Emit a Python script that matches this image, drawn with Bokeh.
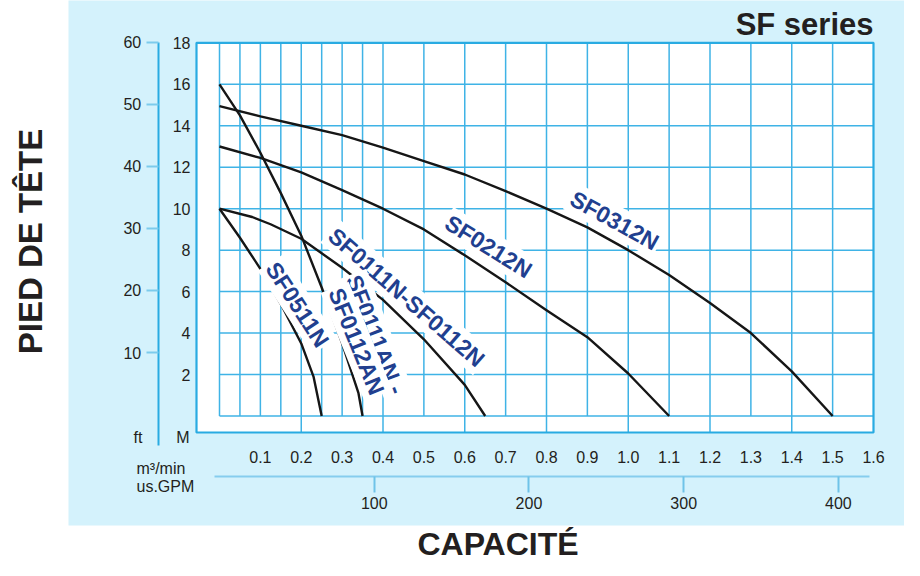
from bokeh.plotting import figure
from bokeh.models import Range1d, LinearAxis, FixedTicker, Label
from bokeh.embed import file_html
from bokeh.resources import INLINE

# ---------------- data (flow in m3/min, head in metres) ----------------
SF0312N_Q = [0.0, 0.1, 0.2, 0.3, 0.4, 0.5, 0.6, 0.7, 0.8, 0.9, 1.0, 1.1, 1.2, 1.3, 1.4, 1.5]
SF0312N_H = [14.95, 14.45, 14.0, 13.55, 12.95, 12.3, 11.65, 10.85, 10.0, 9.1, 8.0, 6.8, 5.45, 4.0, 2.15, 0.0]

SF0212N_Q = [0.0, 0.1, 0.2, 0.3, 0.4, 0.5, 0.6, 0.7, 0.8, 0.9, 1.0, 1.1]
SF0212N_H = [13.0, 12.45, 11.75, 10.9, 10.0, 9.0, 7.75, 6.45, 5.1, 3.8, 2.05, 0.0]

SF0111N_Q = [0.0, 0.08, 0.125, 0.2, 0.3, 0.4, 0.5, 0.6, 0.65]
SF0111N_H = [10.0, 9.6, 9.25, 8.55, 7.15, 5.6, 3.7, 1.5, 0.0]

SF0111AN_Q = [0.0, 0.05, 0.1, 0.15, 0.2, 0.25, 0.3, 0.34, 0.35]
SF0111AN_H = [16.0, 14.5, 12.7, 10.75, 8.7, 6.2, 3.5, 1.1, 0.0]

SF0511N_Q = [0.0, 0.05, 0.1, 0.15, 0.2, 0.23, 0.25]
SF0511N_H = [10.0, 8.6, 7.1, 5.4, 3.5, 1.9, 0.0]

CURVE_NAMES = ["SF0312N", "SF0212N", "SF0111N-SF0112N", "SF0511N", "SF0111AN -", "SF0112AN"]

M_TICKS = [2, 4, 6, 8, 10, 12, 14, 16, 18]
FT_TICKS = [10, 20, 30, 40, 50, 60]
M3_TICKS = [0.1, 0.2, 0.3, 0.4, 0.5, 0.6, 0.7, 0.8, 0.9, 1.0, 1.1, 1.2, 1.3, 1.4, 1.5, 1.6]
M3_LABELS = ["0.1", "0.2", "0.3", "0.4", "0.5", "0.6", "0.7", "0.8", "0.9", "1.0",
             "1.1", "1.2", "1.3", "1.4", "1.5", "1.6"]
GPM_TICKS = [100, 200, 300, 400]
GRID_Q = [0.0, 0.05, 0.1, 0.15, 0.2, 0.25, 0.3, 0.35, 0.4, 0.5, 0.6, 0.7, 0.8, 0.9,
          1.0, 1.1, 1.2, 1.3, 1.4, 1.5]
GRID_Q_LONG = [0.2, 0.4, 0.6, 0.8, 1.0, 1.2, 1.4]
GRID_H = [0, 2, 4, 6, 8, 10, 12, 14, 16]
Q_MAX, H_MAX = 1.6, 18

GPM_IN_M3MIN = 0.003785411784

# ---------------- layout helpers (picture pixels -> data) ----------------
W, H = 904, 560
X0, SX = 219.0, 408.75
Y0, SY = 415.5, 20.73
FT0, FTS = 414.1, 6.21


def dx(px):
    return (px - X0) / SX


def dy(py):
    return (Y0 - py) / SY


BLUE_BG = "#d4f2fc"
BOX = "#29abe2"
GRID = "#3fb3e6"
INK = "#231f20"
NAVY = "#213f8f"
FONT = "Liberation Sans"

p = figure(width=W, height=H, output_backend="svg", toolbar_location=None, title=None,
           x_range=Range1d(dx(0), dx(W)), y_range=Range1d(dy(H), dy(0)),
           x_axis_location=None, y_axis_location=None, min_border=0,
           outline_line_color=None, background_fill_color="white",
           border_fill_color="white")
p.grid.visible = False

p.extra_y_ranges = {"ft": Range1d((FT0 - H) / FTS, FT0 / FTS)}
p.extra_x_ranges = {"gpm": Range1d(dx(0) / GPM_IN_M3MIN, dx(W) / GPM_IN_M3MIN)}

# light blue panel and white chart box
p.quad(left=dx(68), right=dx(W) + 0.05, bottom=dy(525), top=dy(0) + 1,
       fill_color=BLUE_BG, line_color=None)
p.quad(left=dx(196), right=Q_MAX, bottom=dy(432), top=H_MAX,
       fill_color="white", line_color=None)

# grid
p.segment(x0=GRID_Q, x1=GRID_Q, y0=[0] * len(GRID_Q), y1=[H_MAX] * len(GRID_Q),
          line_color=GRID, line_width=1.5)
p.segment(x0=GRID_Q_LONG, x1=GRID_Q_LONG, y0=[dy(432)] * len(GRID_Q_LONG),
          y1=[0] * len(GRID_Q_LONG), line_color=GRID, line_width=1.5)
p.segment(x0=[0] * len(GRID_H), x1=[Q_MAX] * len(GRID_H), y0=GRID_H, y1=GRID_H,
          line_color=GRID, line_width=1.5)

# curves
for q, h in [(SF0312N_Q, SF0312N_H), (SF0212N_Q, SF0212N_H), (SF0111N_Q, SF0111N_H),
             (SF0111AN_Q, SF0111AN_H), (SF0511N_Q, SF0511N_H)]:
    p.line(q, h, line_color="#161616", line_width=2.4, line_join="round")

# box outline
p.quad(left=dx(196), right=Q_MAX, bottom=dy(432), top=H_MAX,
       fill_color=None, line_color=BOX, line_width=2.2)

TICK_FONT = dict(major_label_text_font=FONT, major_label_text_font_size="16px",
                 major_label_text_color=INK)

# head axis (M)
ax_m = LinearAxis(fixed_location=dx(196), ticker=FixedTicker(ticks=M_TICKS),
                  axis_line_color=None, major_tick_line_color=None,
                  minor_tick_line_color=None, major_tick_out=0, major_tick_in=0,
                  major_label_standoff=6, **TICK_FONT)
p.add_layout(ax_m, "left")

# head axis (ft)
ax_ft = LinearAxis(y_range_name="ft", fixed_location=dx(157.7), bounds=(-5, 60),
                   ticker=FixedTicker(ticks=FT_TICKS), axis_line_color=BOX,
                   axis_line_width=2, major_tick_line_color="#7ccbec",
                   major_tick_line_width=2, major_tick_out=12, major_tick_in=0,
                   minor_tick_line_color=None, major_label_standoff=5, **TICK_FONT)
p.add_layout(ax_ft, "left")

# flow axis (m3/min)
ax_q = LinearAxis(fixed_location=dy(432), ticker=FixedTicker(ticks=M3_TICKS),
                  major_label_overrides=dict(zip(M3_TICKS, M3_LABELS)),
                  axis_line_color=None, major_tick_line_color=None,
                  minor_tick_line_color=None, major_tick_out=0, major_tick_in=0,
                  major_label_standoff=18, **TICK_FONT)
p.add_layout(ax_q, "below")

# flow axis (US GPM)
ax_g = LinearAxis(x_range_name="gpm", fixed_location=dy(476),
                  bounds=(dx(214) / GPM_IN_M3MIN, dx(869) / GPM_IN_M3MIN),
                  ticker=FixedTicker(ticks=GPM_TICKS), axis_line_color="#86cdee",
                  axis_line_width=2, major_tick_line_color="#6fc3e8",
                  major_tick_line_width=2, major_tick_out=16, major_tick_in=0,
                  minor_tick_line_color=None, major_label_standoff=4, **TICK_FONT)
p.add_layout(ax_g, "below")


def lbl(text, x, y, size, bold=False, color=INK, angle=0, align="center",
        baseline="middle", bg=None):
    lab = Label(x=x, y=y, text=text, text_font=FONT, text_font_size=size,
                text_font_style="bold" if bold else "normal", text_color=color,
                angle=angle, angle_units="deg", text_align=align,
                text_baseline=baseline)
    if bg is not None:
        lab.background_fill_color = bg
        lab.padding = 2
    p.add_layout(lab)
    return lab


# unit captions
lbl("M", dx(189), dy(437), "16px", align="right")
lbl("ft", dx(142), dy(437), "16px", align="right")
lbl("m³/min", dx(136), dy(468), "16px", align="left")
lbl("us.GPM", dx(136), dy(486), "16px", align="left")

# titles
lbl("SF series", Q_MAX, dy(23.5), "31px", bold=True, align="right")
lbl("CAPACITÉ", dx(497.5), dy(543), "32px", bold=True, align="center")
lbl("PIED DE TÊTE", dx(30), dy(241), "33px", bold=True, angle=90, align="center")

# curve names
CURVE_LABEL_POS = [(614, 220, -29), (488, 246, -32), (406, 297, -41),
                   (297, 304, -57), (375, 334, -69), (356, 341, -68)]
for name, (px, py, ang) in zip(CURVE_NAMES, CURVE_LABEL_POS):
    lbl(name, dx(px), dy(py), "23px", bold=True, color=NAVY, angle=ang, bg="white")

open("out.html", "w").write(file_html(p, INLINE))
